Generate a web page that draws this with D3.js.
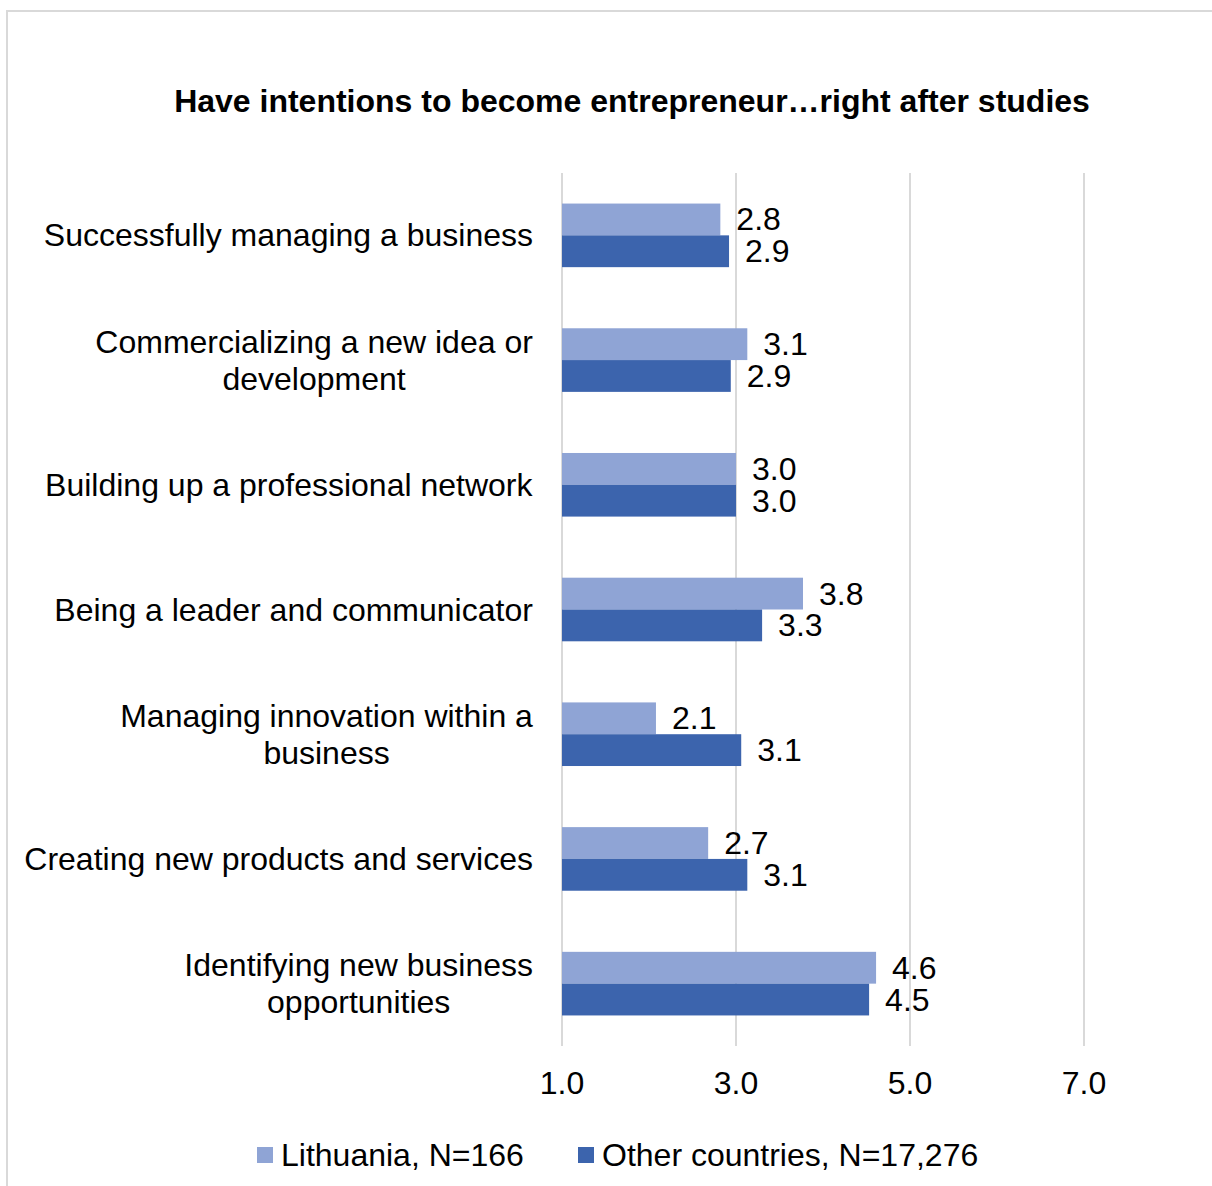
<!DOCTYPE html>
<html>
<head>
<meta charset="utf-8">
<title>Have intentions to become entrepreneur</title>
<style>
  body { margin: 0; background: #fff; }
  text { font-family: "Liberation Sans", Arial, sans-serif; fill: #000; }
</style>
</head>
<body>
<script src="https://d3js.org/d3.v7.min.js"></script>
<script>
var width = 1212, height = 1186;

// data
var categories = [
  ["Successfully managing a business"],
  ["Commercializing a new idea or", "development"],
  ["Building up a professional network"],
  ["Being a leader and communicator"],
  ["Managing innovation within a", "business"],
  ["Creating new products and services"],
  ["Identifying new business", "opportunities"]
];
var lithuania = [2.82, 3.13, 3.0, 3.77, 2.08, 2.68, 4.61];
var others = [2.92, 2.94, 3.0, 3.30, 3.06, 3.13, 4.53];
var seriesNames = ["Lithuania, N=166", "Other countries, N=17,276"];
var seriesColors = ["#8FA4D5", "#3C64AD"];
var ticks = [1, 3, 5, 7];
var title = "Have intentions to become entrepreneur\u2026right after studies";

var svg = d3.select("body").append("svg")
    .attr("width", width)
    .attr("height", height);

// chart frame
svg.append("rect")
    .attr("x", 7).attr("y", 11)
    .attr("width", 1300).attr("height", 1300)
    .attr("fill", "none")
    .attr("stroke", "#d9d9d9")
    .attr("stroke-width", 2);

svg.append("text")
    .attr("x", 632)
    .attr("y", 112)
    .attr("text-anchor", "middle")
    .style("font-size", "32px")
    .style("font-weight", "bold")
    .text(title);

var x = d3.scaleLinear().domain([1, 7]).range([562, 1084]);
var plotTop = 173, plotBottom = 1046;

var y = d3.scaleBand()
    .domain(d3.range(categories.length))
    .range([plotTop, plotBottom])
    .paddingInner(0.49)
    .paddingOuter(0.245);

var y1 = d3.scaleBand()
    .domain([0, 1])
    .range([0, y.bandwidth()]);

// gridlines
svg.append("g").selectAll("line")
    .data(ticks)
    .enter().append("line")
    .attr("x1", function (d) { return x(d); })
    .attr("x2", function (d) { return x(d); })
    .attr("y1", plotTop)
    .attr("y2", plotBottom)
    .attr("stroke", "#d9d9d9")
    .attr("stroke-width", 2);

// tick labels
svg.append("g").selectAll("text")
    .data(ticks)
    .enter().append("text")
    .attr("x", function (d) { return x(d); })
    .attr("y", 1094)
    .attr("text-anchor", "middle")
    .style("font-size", "32px")
    .text(function (d) { return d.toFixed(1); });

var series = [lithuania, others];

series.forEach(function (vals, s) {
    var g = svg.append("g");
    g.selectAll("rect")
        .data(vals)
        .enter().append("rect")
        .attr("x", x(1))
        .attr("y", function (d, i) { return y(i) + y1(s); })
        .attr("width", function (d) { return x(d) - x(1); })
        .attr("height", y1.bandwidth())
        .attr("fill", seriesColors[s]);

    g.selectAll("text")
        .data(vals)
        .enter().append("text")
        .attr("x", function (d) { return x(d) + 16; })
        .attr("y", function (d, i) { return y(i) + y1(s) + y1.bandwidth() / 2 + 11; })
        .style("font-size", "32px")
        .text(function (d) { return d.toFixed(1); });
});

// category labels
var labels = svg.append("g").selectAll("g")
    .data(categories)
    .enter().append("g");

labels.each(function (lines, i) {
    var g = d3.select(this);
    var cy = y(i) + y.bandwidth() / 2;
    var lh = 37;
    var t = g.append("text")
        .style("font-size", "32px")
        .attr("text-anchor", "middle");
    lines.forEach(function (ln, k) {
        t.append("tspan")
            .attr("x", 0)
            .attr("y", cy + 11 + (k - (lines.length - 1) / 2) * lh)
            .text(ln);
    });
    var w = t.node().getBBox().width;
    t.attr("transform", "translate(" + (533 - w / 2) + ",0)");
});

// legend
var legendX = [257, 578];
var legend = svg.append("g").selectAll("g")
    .data(seriesNames)
    .enter().append("g");

legend.append("rect")
    .attr("x", function (d, i) { return legendX[i]; })
    .attr("y", 1147)
    .attr("width", 16)
    .attr("height", 16)
    .attr("fill", function (d, i) { return seriesColors[i]; });

legend.append("text")
    .attr("x", function (d, i) { return legendX[i] + 24; })
    .attr("y", 1166)
    .style("font-size", "32px")
    .text(function (d) { return d; });
</script>
</body>
</html>
